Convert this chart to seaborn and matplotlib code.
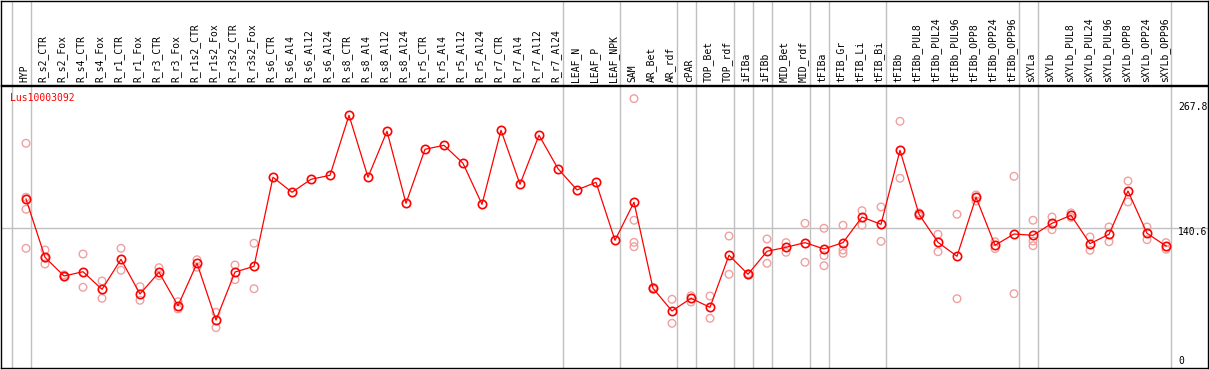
import seaborn as sns
import matplotlib.pyplot as plt
import pandas as pd
import numpy as np

# sample names, in plotting order
samples = ['HYP', 'R_s2_CTR', 'R_s2_Fox', 'R_s4_CTR', 'R_s4_Fox', 'R_r1_CTR', 'R_r1_Fox',
           'R_r3_CTR', 'R_r3_Fox', 'R_r1s2_CTR', 'R_r1s2_Fox', 'R_r3s2_CTR', 'R_r3s2_Fox',
           'R_s6_CTR', 'R_s6_Al4', 'R_s6_Al12', 'R_s6_Al24', 'R_s8_CTR', 'R_s8_Al4',
           'R_s8_Al12', 'R_s8_Al24', 'R_r5_CTR', 'R_r5_Al4', 'R_r5_Al12', 'R_r5_Al24',
           'R_r7_CTR', 'R_r7_Al4', 'R_r7_Al12', 'R_r7_Al24', 'LEAF_N', 'LEAF_P', 'LEAF_NPK',
           'SAM', 'AR_Bet', 'AR_rdf', 'cPAR', 'TOP_Bet', 'TOP_rdf', 'iFIBa', 'iFIBb',
           'MID_Bet', 'MID_rdf', 'tFIBa', 'tFIB_Gr', 'tFIB_Li', 'tFIB_Bi', 'tFIBb',
           'tFIBb_PUL8', 'tFIBb_PUL24', 'tFIBb_PUL96', 'tFIBb_OPP8', 'tFIBb_OPP24',
           'tFIBb_OPP96', 'sXYLa', 'sXYLb', 'sXYLb_PUL8', 'sXYLb_PUL24', 'sXYLb_PUL96',
           'sXYLb_OPP8', 'sXYLb_OPP24', 'sXYLb_OPP96']

# mean expression per sample
means = [169.1, 111.8, 93.4, 97.6, 80.3, 109.8, 75.7, 97.1, 64.2, 105.9, 50.1, 97.3, 102.9,
         190.5, 175.7, 188.5, 192.4, 251.4, 190.5, 235.7, 164.9, 218.0, 221.9, 204.2, 163.9,
         236.7, 183.6, 231.8, 198.9, 178.0, 185.5, 128.5,
         165.9, 81.3, 59.0, 71.5, 62.6, 113.8, 95.1, 117.7, 121.6, 126.2, 120.0, 126.2,
         151.4, 144.2, 217.0, 154.1, 126.5, 112.8, 170.8, 123.6, 134.7, 133.4, 145.2,
         153.1, 125.2, 134.4, 177.0, 135.4, 122.9]

# replicate values (empty where none were shown)
reps = [[223.9, 170.8, 159.0, 120.6], [119.0, 105.2, 111.0], [92.5, 94.5], [115.0, 82.3],
        [88.5, 71.5], [120.6, 99.0], [82.9, 69.5], [101.6, 93.7], [68.1, 61.0],
        [109.4, 102.0], [57.7, 42.6], [104.2, 89.8], [125.6, 80.9],
        [], [], [], [], [], [], [], [], [], [], [], [], [], [], [], [], [], [], [],
        [267.8, 148.2, 126.5, 122.2], [80.5, 82.0], [70.5, 46.9], [74.0, 67.8],
        [73.7, 51.8], [132.7, 95.1], [94.5, 95.7], [129.8, 105.9], [126.2, 116.7],
        [145.2, 106.9], [140.3, 113.4, 103.5], [143.3, 119.0, 115.7], [157.6, 143.3],
        [161.3, 127.5], [245.5, 189.5], [152.5, 155.5], [134.4, 117.3], [154.1, 71.1],
        [173.1, 167.2], [127.1, 120.3], [191.4, 76.0], [148.2, 127.8, 123.2],
        [151.4, 138.9], [155.4, 151.0], [131.8, 118.7], [141.6, 127.1], [186.8, 166.2],
        [141.6, 129.1], [126.2, 119.7]]

# group separators: after these sample indices
group_ends = [-1, 0, 28, 31, 34, 35, 37, 38, 39, 41, 42, 45, 52, 53, 60]

gene = 'Lus10003092'
y_labels = ['267.8', '140.6', '0']
ref_value = 140.6

mean_df = pd.DataFrame({'pos': np.arange(len(samples)), 'value': means})
rep_df = pd.DataFrame([(i, v) for i, r in enumerate(reps) for v in r], columns=['pos', 'value'])

plt.rcParams['font.family'] = 'DejaVu Sans Mono'
W, H = 1209, 370
fig = plt.figure(figsize=(W / 100, H / 100), dpi=100)

xlim = (-25 / 19, 1182 / 19)
ax = fig.add_axes([1 / W, 2 / H, 1207 / W, 282 / H])
hax = fig.add_axes([1 / W, 285 / H, 1207 / W, 84.5 / H])

for a in (ax, hax):
    a.set_xlim(*xlim)
    a.set_xticks([])
    a.set_yticks([])
    for s in a.spines.values():
        s.set_linewidth(1)
        s.set_color('black')
    for k in group_ends:
        a.axvline(k + 5 / 19, color='#c0c0c0', lw=1, zorder=0)

ax.set_ylim(2.95, 280.2)
ax.axhline(ref_value, color='#c0c0c0', lw=1, zorder=0)

sns.scatterplot(data=rep_df, x='pos', y='value', ax=ax, marker='o', s=30,
                facecolor='none', edgecolor='#f0a0a0', linewidth=1.0, zorder=2, legend=False)
sns.lineplot(data=mean_df, x='pos', y='value', ax=ax, color='red', lw=0.9,
             marker='o', markersize=6, markerfacecolor='none', markeredgecolor='red',
             markeredgewidth=1.2, zorder=3)
ax.set_xlabel('')
ax.set_ylabel('')
ax.set_ylim(2.95, 280.2)
ax.set_xlim(*xlim)

hax.set_ylim(0, 1)
for i, name in enumerate(samples):
    hax.text(i - 0.1, 0.03, name, rotation=90, ha='center', va='bottom', fontsize=7)

fig.text(10 / W, 1 - 98 / H, gene, color='red', fontsize=7, ha='left', va='center')
for lab, ypx in zip(y_labels, [107, 232, 361]):
    fig.text(1178 / W, 1 - ypx / H, lab, fontsize=7, ha='left', va='center')

fig.savefig('out.png', dpi=100)
